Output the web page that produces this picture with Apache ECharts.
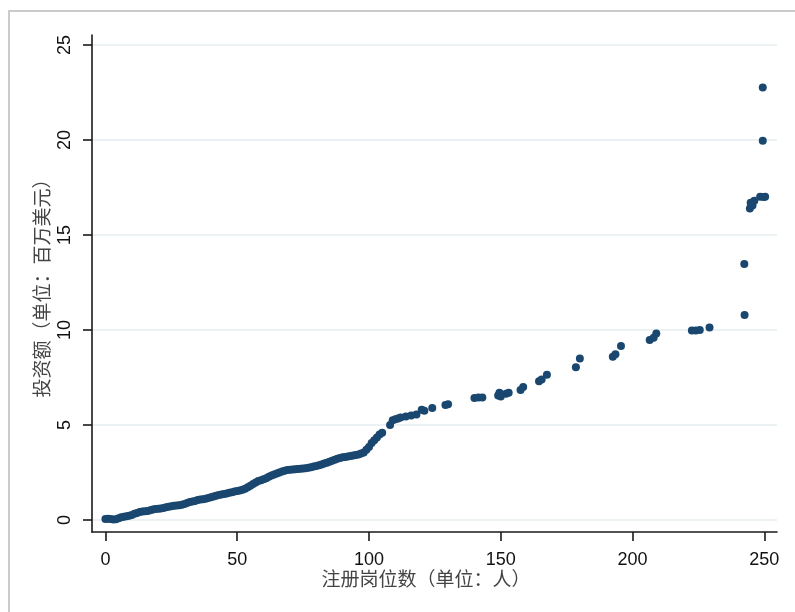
<!DOCTYPE html>
<html>
<head>
<meta charset="utf-8">
<script src="https://cdn.jsdelivr.net/npm/echarts@6/dist/echarts.min.js"></script>
<style>
html,body{margin:0;padding:0;background:#fff;}
#chart{width:795px;height:612px;}
</style>
</head>
<body>
<div id="chart"></div>
<script>
// 注册岗位数 (x) and 投资额 (y, million USD)
const jobs = [
  0,1,2,3,4,5,6,7,8,9,10,11,12,13,14,15,16,17,18,19,20,21,22,23,24,25,26,27,28,29,
  30,31,32,33,34,35,36,37,38,39,40,41,42,43,44,45,46,47,48,49,50,51,52,53,54,55,56,57,58,59,
  60,61,62,63,64,65,66,67,68,69,70,71,72,73,74,75,76,77,78,79,80,81,82,83,84,85,86,87,88,89,
  90,91,92,93,94,95,96,97,98,99,
  100,101,102,103,104,105,108,109,110,111,112,114,116,118,120,121,124,129,130,
  140,141.5,143,149,149.5,150,152,153,157.5,158.5,164.5,165.5,167.5,178.5,180,
  192.5,193.5,195.6,206.5,208,209,222.5,224,225.5,229.2,242.5,242.4,
  244.5,244.8,245.5,246.2,248.4,250.3,249.7,249.4,249.4
];
const investment = [
  0.05,0.07,0.06,0.03,0.04,0.1,0.15,0.17,0.2,0.22,0.27,0.33,0.37,0.42,0.45,0.46,0.47,0.52,0.55,0.58,0.6,0.61,0.63,0.67,0.7,0.73,0.75,0.76,0.78,0.8,
  0.85,0.9,0.95,0.97,1.0,1.05,1.08,1.1,1.12,1.16,1.2,1.24,1.28,1.32,1.35,1.37,1.4,1.43,1.46,1.5,1.53,1.56,1.6,1.65,1.72,1.8,1.9,1.98,2.05,2.1,
  2.15,2.2,2.28,2.35,2.4,2.45,2.5,2.55,2.6,2.63,2.65,2.66,2.67,2.68,2.7,2.71,2.72,2.75,2.78,2.82,2.85,2.88,2.92,2.97,3.02,3.07,3.12,3.17,3.22,3.27,
  3.3,3.32,3.35,3.37,3.4,3.42,3.45,3.5,3.55,3.7,
  3.85,4.05,4.2,4.35,4.5,4.6,5.0,5.25,5.3,5.35,5.4,5.45,5.5,5.55,5.8,5.75,5.9,6.05,6.1,
  6.42,6.45,6.45,6.55,6.7,6.5,6.65,6.7,6.85,7.0,7.3,7.4,7.65,8.04,8.5,
  8.6,8.72,9.16,9.47,9.6,9.82,9.97,9.97,10.0,10.14,10.79,13.47,
  16.4,16.7,16.55,16.8,17.02,17.02,17.0,19.96,22.77
];
const xTicks = [0, 50, 100, 150, 200, 250];
const yTicks = [0, 5, 10, 15, 20, 25];
const xTitle = '注册岗位数（单位：人）';
const yTitle = '投资额（单位：百万美元）';

const points = jobs.map((x, i) => [x, investment[i]]);

const chart = echarts.init(document.getElementById('chart'), null, {renderer: 'canvas'});
const font = 'Liberation Sans, Arial, sans-serif';
chart.setOption({
  backgroundColor: '#ffffff',
  animation: false,
  graphic: [{
    type: 'rect',
    shape: {x: 9, y: 11, width: 900, height: 700},
    style: {fill: 'none', stroke: '#cbcbcb', lineWidth: 2},
    silent: true
  }],
  grid: {left: 92, right: 18, top: 35, bottom: 80, containLabel: false},
  xAxis: {
    type: 'value',
    min: -5.1,
    max: 254.8,
    axisLine: {show: true, onZero: false, lineStyle: {color: '#1a1a1a', width: 1.6}},
    axisTick: {show: true, inside: false, length: 9, customValues: xTicks, lineStyle: {color: '#1a1a1a', width: 1.6}},
    axisLabel: {customValues: xTicks, margin: 19, color: '#111', fontSize: 18, fontFamily: font},
    splitLine: {show: false},
    name: xTitle,
    nameLocation: 'middle',
    nameGap: 37,
    nameMoveOverlap: false,
    nameTextStyle: {color: '#444', fontSize: 19, fontFamily: 'Noto Sans CJK SC', padding: [0, 17, 0, 0]}
  },
  yAxis: {
    type: 'value',
    min: -0.63,
    max: 25.53,
    axisLine: {show: true, onZero: false, lineStyle: {color: '#1a1a1a', width: 1.6}},
    axisTick: {show: true, inside: false, length: 9, customValues: yTicks, lineStyle: {color: '#1a1a1a', width: 1.6}},
    axisLabel: {customValues: yTicks, rotate: 90, margin: 18, color: '#111', fontSize: 18, fontFamily: font},
    splitLine: {show: true, lineStyle: {color: '#e6eef1', width: 1.5}},
    name: yTitle,
    nameLocation: 'middle',
    nameRotate: 90,
    nameGap: 41,
    nameMoveOverlap: false,
    nameTextStyle: {color: '#444', fontSize: 19, fontFamily: 'Noto Sans CJK SC'}
  },
  series: [{
    type: 'scatter',
    data: points,
    symbol: 'circle',
    symbolSize: 8,
    itemStyle: {color: '#1a476f', opacity: 1},
    z: 3
  }]
});
</script>
</body>
</html>
